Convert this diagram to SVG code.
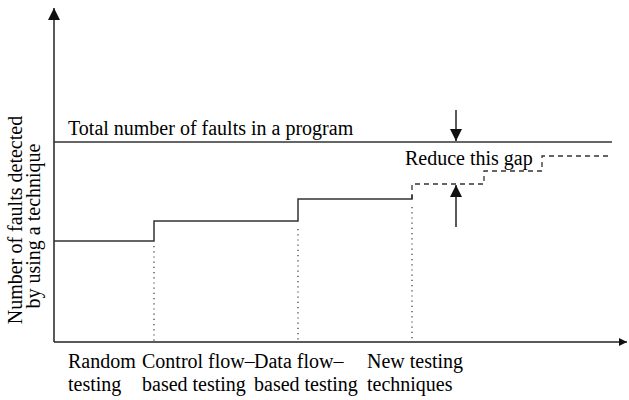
<svg xmlns="http://www.w3.org/2000/svg" width="629" height="400" viewBox="0 0 629 400">
<defs>
<marker id="ah" viewBox="0 0 10 10" refX="10" refY="5" markerWidth="8" markerHeight="8" markerUnits="userSpaceOnUse" orient="auto"><path d="M0,0 L10,5 L0,10 z" fill="#111"/></marker>
<marker id="ah2" viewBox="0 0 10 10" refX="10" refY="5" markerWidth="12" markerHeight="12" markerUnits="userSpaceOnUse" orient="auto"><path d="M0,0 L10,5 L0,10 z" fill="#111"/></marker>
</defs>
<g id="axes" stroke="#222" stroke-width="1.5" fill="none">
<line x1="54" y1="342" x2="54" y2="8" marker-end="url(#ah2)"/>
<line x1="54" y1="342" x2="627" y2="342" marker-end="url(#ah)"/>
</g>
<g id="connectors" stroke="#333" fill="none">
<line stroke-width="1.5" x1="54" y1="142" x2="612" y2="142"/>
<polyline stroke-width="1.5" points="54,241 154,241 154,221 298,221 298,199 412,199 412,195"/>
<polyline stroke-width="1.3" stroke-dasharray="5,4" points="412,199 412,184 484,184 484,171 542,171 542,156 612,156"/>
<line stroke-width="1.2" stroke-dasharray="1.2,4" x1="154" y1="246" x2="154" y2="342"/>
<line stroke-width="1.2" stroke-dasharray="1.2,4" x1="298" y1="229" x2="298" y2="342"/>
<line stroke-width="1.2" stroke-dasharray="1.2,4" x1="412" y1="207" x2="412" y2="342"/>
<line stroke="#222" stroke-width="1.5" x1="456" y1="110" x2="456" y2="141" marker-end="url(#ah2)"/>
<line stroke="#222" stroke-width="1.5" x1="456" y1="227" x2="456" y2="185" marker-end="url(#ah2)"/>
</g>
<text x="68" y="135" font-family="Times New Roman" font-size="20">Total number of faults in a program</text>
<text x="405" y="165" font-family="Times New Roman" font-size="20">Reduce this gap</text>
<text x="68" y="368" font-family="Times New Roman" font-size="20">Random</text>
<text x="68" y="391" font-family="Times New Roman" font-size="20">testing</text>
<text x="142" y="368" font-family="Times New Roman" font-size="20">Control flow&#8211;</text>
<text x="142" y="391" font-family="Times New Roman" font-size="20">based testing</text>
<text x="254" y="368" font-family="Times New Roman" font-size="20">Data flow&#8211;</text>
<text x="254" y="391" font-family="Times New Roman" font-size="20">based testing</text>
<text x="367" y="368" font-family="Times New Roman" font-size="20">New testing</text>
<text x="367" y="391" font-family="Times New Roman" font-size="20">techniques</text>
<text transform="translate(22,220) rotate(-90)" text-anchor="middle" font-family="Times New Roman" font-size="20">Number of faults detected</text>
<text transform="translate(40,226) rotate(-90)" text-anchor="middle" font-family="Times New Roman" font-size="20">by using a technique</text>
</svg>
